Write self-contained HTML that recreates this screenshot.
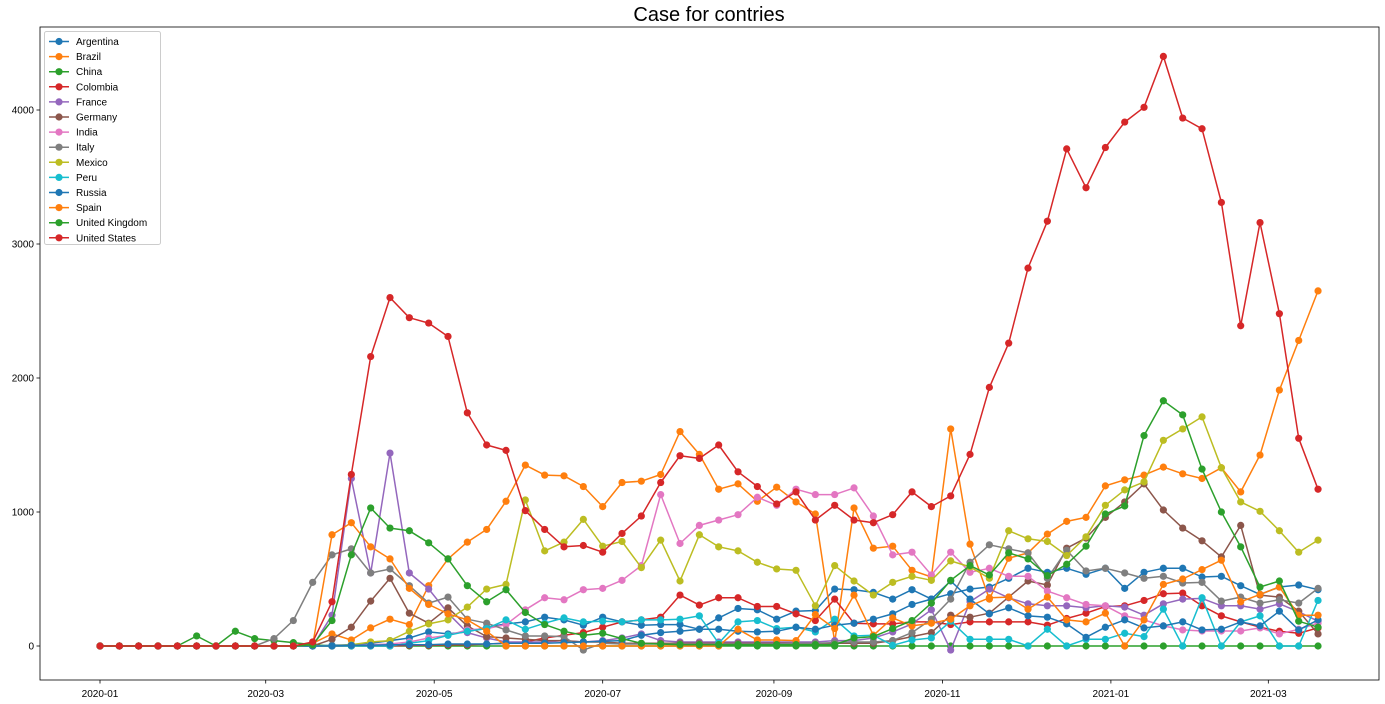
<!DOCTYPE html>
<html><head><meta charset="utf-8"><style>
body{margin:0;background:#fff;font-family:"Liberation Sans",sans-serif;}
svg{display:block}
</style></head><body>
<svg id="chart" width="1385" height="704" xmlns="http://www.w3.org/2000/svg">
<text x="709" y="21" text-anchor="middle" font-size="20" fill="#000">Case for contries</text>
<rect x="40" y="27" width="1339" height="653" fill="none" stroke="#000" stroke-width="0.8"/>
<g id="axes"></g>
<g id="series"></g>
<g id="legend"></g>
</svg>
<script>
const countries = ["Argentina","Brazil","China","Colombia","France","Germany","India","Italy","Mexico","Peru","Russia","Spain","United Kingdom","United States"];
const colors = ["#1f77b4","#ff7f0e","#2ca02c","#d62728","#9467bd","#8c564b","#e377c2","#7f7f7f","#bcbd22","#17becf","#1f77b4","#ff7f0e","#2ca02c","#d62728"];
const yTicks = [0,1000,2000,3000,4000];
const xTickLabels = ["2020-01","2020-03","2020-05","2020-07","2020-09","2020-11","2021-01","2021-03"];
const xTickDays = [0,60,121,182,244,305,366,423];
const z = n => Array(n).fill(0);
const argentina = [...z(12),5,10,20,40,60,105,90,105,140,165,180,215,195,155,215,180,155,160,160,125,210,280,270,200,260,265,425,420,400,350,420,350,390,425,440,505,580,550,580,535,580,430,550,580,580,515,520,450,385,440,455,420];
const brazil = [...z(11),20,90,45,135,200,160,450,650,775,870,1080,1350,1275,1270,1190,1040,1220,1230,1280,1600,1430,1170,1210,1080,1185,1075,985,30,1030,730,745,565,515,1620,760,350,655,695,835,930,960,1195,1240,1275,1335,1285,1250,1330,1150,1425,1910,2280,2650];
const china = [0,0,0,0,0,75,0,110,55,40,25,10,...z(52)];
const colombia = [...z(16),5,5,10,10,15,20,30,60,80,100,140,180,195,215,380,305,360,360,295,295,240,190,350,170,165,165,180,180,160,180,180,180,180,155,205,245,295,300,340,390,395,300,225,180,140,110,95,135];
const france = [...z(12),230,1250,545,1440,545,425,245,100,60,30,30,30,40,30,40,60,90,40,30,30,30,30,30,30,30,30,40,40,60,105,165,270,-30,330,425,360,315,300,300,285,300,290,230,315,350,355,300,300,275,315,255,185];
const germany = [...z(12),50,140,335,505,245,170,285,150,70,60,50,40,40,30,30,20,20,20,20,20,20,20,20,20,20,20,20,20,20,40,70,100,230,215,245,365,485,455,730,805,960,1075,1210,1015,880,785,665,900,380,365,260,90];
const india = [...z(13),5,10,15,30,60,80,120,130,160,270,360,345,420,430,490,600,1130,765,900,940,980,1110,1050,1170,1130,1130,1180,970,680,700,530,700,550,580,520,520,410,360,310,300,225,195,150,120,112,112,112,135,90,125,170];
const italy = [...z(9),55,190,475,680,725,545,575,450,320,365,200,170,120,75,75,70,-30,20,15,15,15,15,15,15,15,15,15,20,20,25,30,30,40,100,200,350,625,755,725,695,505,715,560,580,545,505,520,470,475,335,365,320,345,320,430];
const mexico = [...z(13),10,30,40,110,165,195,290,425,460,1090,710,775,945,745,780,585,790,485,830,740,710,625,575,565,300,600,485,380,475,520,490,635,590,505,860,800,780,675,815,1050,1165,1225,1535,1620,1710,1330,1075,1005,860,700,790];
const peru = [...z(16),20,40,80,110,130,195,125,170,210,180,185,180,195,195,200,225,20,180,190,130,140,105,200,75,80,5,45,60,185,50,50,50,0,125,0,50,50,95,70,275,0,360,0,180,225,0,0,340];
const russia = [...z(13),5,5,10,10,10,15,15,15,20,20,20,25,30,35,40,80,100,110,125,125,110,105,110,140,125,155,170,200,240,310,350,485,350,240,285,225,215,165,65,140,195,135,150,180,120,125,180,150,260,120,195];
const spain = [...z(11),10,830,920,740,650,430,310,240,195,110,...z(12),125,45,45,40,235,130,380,80,210,150,170,200,300,360,365,275,365,195,180,245,0,195,460,500,570,640,330,385,440,230,230];
const uk = [...z(11),10,190,680,1030,880,860,770,650,450,330,420,250,160,110,80,95,55,20,15,10,10,10,10,10,10,10,10,10,60,70,130,190,320,490,600,530,695,650,525,610,745,985,1045,1570,1830,1725,1320,1000,740,440,485,185,140];
const us = [...z(11),30,330,1280,2160,2600,2450,2410,2310,1740,1500,1460,1010,870,740,750,700,840,970,1220,1420,1400,1500,1300,1190,1060,1150,940,1050,940,920,980,1150,1040,1120,1430,1930,2260,2820,3170,3710,3420,3720,3910,4020,4400,3940,3860,3310,2390,3160,2480,1550,1170];
const seriesValues = [argentina,brazil,china,colombia,france,germany,india,italy,mexico,peru,russia,spain,uk,us];

const NS = "http://www.w3.org/2000/svg";
const xScale = day => 100 + day * 2.762;
const yScale = v => 646 - v * 0.134;
function mk(tag, attrs, parent){const e=document.createElementNS(NS,tag);for(const k in attrs)e.setAttribute(k,attrs[k]);parent.appendChild(e);return e;}

const axes = document.getElementById('axes');
yTicks.forEach(t=>{
  const y=yScale(t);
  const tk=mk('line',{x1:36.5,x2:40,y1:y,y2:y,stroke:'#000','stroke-width':0.8},axes);
  
  
  const lb=mk('text',{x:34,y:y+3.5,'text-anchor':'end','font-size':10,fill:'#000'},axes);
  lb.textContent=t;
  
  
});
xTickDays.forEach((d,i)=>{
  const x=xScale(d);
  const tk=mk('line',{x1:x,x2:x,y1:680,y2:683.5,stroke:'#000','stroke-width':0.8},axes);
  
  
  const lb=mk('text',{x:x,y:697,'text-anchor':'middle','font-size':10,fill:'#000'},axes);
  lb.textContent=xTickLabels[i];
  
  
});

const sg=document.getElementById('series');
seriesValues.forEach((vals,si)=>{
  const g=mk('g',{},sg);
  
  
  const pts=vals.map((v,i)=>xScale(i*7).toFixed(1)+','+yScale(v).toFixed(1)).join(' ');
  const pl=mk('polyline',{points:pts,fill:'none',stroke:colors[si],'stroke-width':1.5,'stroke-linejoin':'round'},g);
  
  
  vals.forEach((v,i)=>{
    const c=mk('circle',{cx:xScale(i*7),cy:yScale(v),r:3.6,fill:colors[si]},g);
    
    
  });
});

const lg=document.getElementById('legend');
const box=mk('rect',{x:44.5,y:31.5,width:116,height:213,rx:2,fill:'#fff','fill-opacity':0.8,stroke:'#ccc','stroke-width':1},lg);


countries.forEach((c,i)=>{
  const y=41.5+i*15.1;
  const g=mk('g',{},lg);
  
  
  mk('line',{x1:49,x2:69,y1:y,y2:y,stroke:colors[i],'stroke-width':1.5},g);
  mk('circle',{cx:59,cy:y,r:3.6,fill:colors[i]},g);
  const t=mk('text',{x:76,y:y+3.5,'font-size':10,fill:'#000'},g);
  t.textContent=c;
});
</script>
</body></html>
